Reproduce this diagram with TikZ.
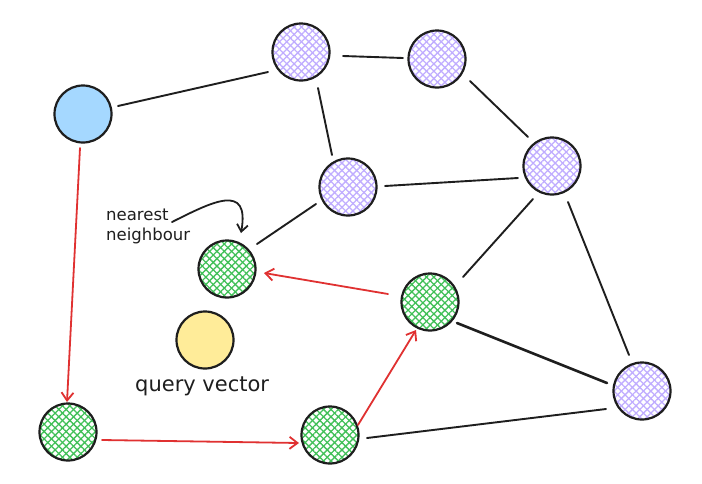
\documentclass[tikz,border=0pt]{standalone}
\usepackage{fontspec}
\setmainfont{DejaVu Sans}
\usetikzlibrary{patterns.meta,arrows.meta}
\definecolor{hgreen}{HTML}{40C057}
\definecolor{hpurple}{HTML}{C0ADFF}
\definecolor{nblue}{HTML}{A5D8FF}
\definecolor{nyellow}{HTML}{FFEC99}
\definecolor{ered}{HTML}{E03131}
\definecolor{ink}{HTML}{1E1E1E}
\tikzset{
  base/.style={circle, draw=ink, line width=2.2pt, minimum size=57pt, inner sep=0pt},
  hatch/.style={base,
    preaction={fill=white},
    preaction={pattern={Lines[angle=45,distance=5.2pt,line width=1.3pt]}, pattern color=#1},
    pattern={Lines[angle=-45,distance=5.2pt,line width=1.3pt]}, pattern color=#1},
  solidnode/.style={base, fill=#1},
  edge/.style={draw=ink, line width=1.9pt, line cap=round},
  redarrow/.style={draw=ered, line width=1.8pt, line cap=round, -{Straight Barb[length=8pt,width=12pt]}},
  note/.style={font=\fontsize{16.5}{20}\selectfont, text=ink, align=left, inner sep=0pt},
}
\begin{document}
\begin{tikzpicture}[x=1pt,y=-1pt]
\useasboundingbox (0,0) rectangle (702,483);
\fill[white] (0,0) rectangle (702,483);
% nodes
\node[solidnode=nblue] (b) at (83,114) {};
\node[hatch=hpurple] (p1) at (301,52) {};
\node[hatch=hpurple] (p2) at (437,59) {};
\node[hatch=hpurple] (p3) at (552,166) {};
\node[hatch=hpurple] (p4) at (348,187) {};
\node[hatch=hpurple] (p5) at (642,391) {};
\node[hatch=hgreen] (g1) at (227,269) {};
\node[hatch=hgreen] (g2) at (430,302) {};
\node[hatch=hgreen] (g3) at (68,432) {};
\node[hatch=hgreen] (g4) at (330,435) {};
\node[solidnode=nyellow] (y) at (205,340) {};
% labels
\node[note, anchor=base west] (nn) at (106,240) {nearest\\neighbour};
\node[note, font=\fontsize{21}{24}\selectfont, anchor=base west] (qv) at (135,391) {query vector};
% black edges
\draw[edge] ([shift={(35,-8)}]b.center) -- ([shift={(-33,20)}]p1.center);
\draw[edge] ([shift={(42,4)}]p1.center) -- ([shift={(-34,-1)}]p2.center);
\draw[edge] ([shift={(17,36)}]p1.center) -- ([shift={(-16,-32)}]p4.center);
\draw[edge] ([shift={(33,22)}]p2.center) -- ([shift={(-24,-29)}]p3.center);
\draw[edge] ([shift={(37,-1)}]p4.center) -- ([shift={(-34,12)}]p3.center);
\draw[edge] ([shift={(-32,17)}]p4.center) -- ([shift={(30,-25)}]g1.center);
\draw[edge] ([shift={(-19,33)}]p3.center) -- ([shift={(33,-25)}]g2.center);
\draw[edge] ([shift={(16,36)}]p3.center) -- ([shift={(-13,-36)}]p5.center);
\draw[edge, line width=2.6pt] ([shift={(27,21)}]g2.center) -- ([shift={(-35,-8)}]p5.center);
\draw[edge] ([shift={(37,3)}]g4.center) -- ([shift={(-36,18)}]p5.center);
% red path
\draw[redarrow] ([shift={(-3,34)}]b.center) -- ([shift={(-1,-30)}]g3.center);
\draw[redarrow] ([shift={(34,8)}]g3.center) -- ([shift={(-31,8)}]g4.center);
\draw[redarrow] ([shift={(28,-10)}]g4.center) -- ([shift={(-14,28)}]g2.center);
\draw[redarrow] ([shift={(-42,-8)}]g2.center) -- ([shift={(37,4)}]g1.center);
% annotation arrow
\coordinate (ns) at (172,222);
\draw[draw=ink, line width=1.8pt, line cap=round, -{Straight Barb[length=7pt,width=11pt]}]
  (ns) .. controls (212,202) and (250,182) .. ([shift={(14,-36)}]g1.center);
\end{tikzpicture}
\end{document}
